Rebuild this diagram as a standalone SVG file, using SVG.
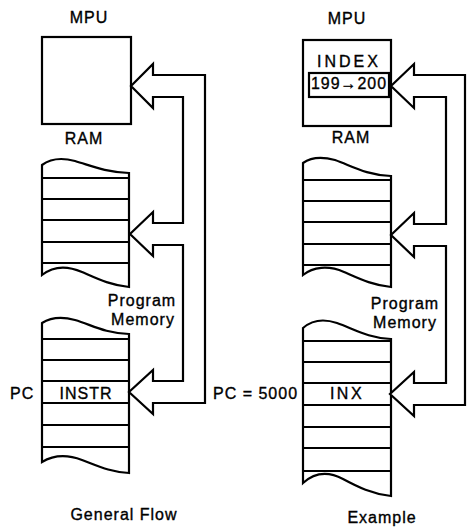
<svg xmlns="http://www.w3.org/2000/svg" width="467" height="527" viewBox="0 0 467 527">
<style>
.t{font-family:"Liberation Sans",Arial,sans-serif;font-size:16px;letter-spacing:1px;fill:#000;stroke:#000;stroke-width:0.35px}
.m{text-anchor:middle}
.s{fill:none;stroke:#000;stroke-width:2.2;stroke-linejoin:miter}
.f{fill:#fff;stroke:#000;stroke-width:2.2}
</style>
<rect width="467" height="527" fill="#fff"/>

<!-- LEFT: General Flow -->
<g id="left-mpu">
<text class="t m" x="89" y="23">MPU</text>
<rect class="s" x="42" y="37" width="89" height="87"/>
</g>
<g id="left-ram">
<text class="t m" x="84" y="144">RAM</text>
<path class="s" d="M42,275 L42,165 C50,159 60,157 75,161 C92,166 104,172 129,173 L129,287 C110,285 98,279 82,272 C66,265 52,267 42,275 Z"/>
<path class="s" d="M42,178 H129 M42,199 H129 M42,220 H129 M42,242 H129 M42,263 H129"/>
</g>
<g id="left-pm">
<text class="t m" x="142" y="306">Program</text>
<text class="t m" x="143" y="325">Memory</text>
<path class="s" d="M42,462 L42,323 C50,318 60,316 75,320 C92,325 104,333 129,334 L129,473 C110,472 98,466 82,460 C66,454 52,456 42,462 Z"/>
<path class="s" d="M42,339 H129 M42,360 H129 M42,381 H129 M42,403 H129 M42,425 H129 M42,447 H129"/>
<text class="t" x="10" y="399">PC</text>
<text class="t m" x="86" y="399">INSTR</text>
</g>

<!-- RIGHT: Example -->
<g id="right-mpu">
<text class="t m" x="347" y="24">MPU</text>
<rect class="s" x="303" y="40" width="88" height="86"/>
<text class="t m" x="349" y="67" style="letter-spacing:3px">INDEX</text>
<rect class="s" x="309" y="73" width="80" height="24"/>
<text class="t" x="311" y="89" textLength="76" lengthAdjust="spacingAndGlyphs">199→200</text>
</g>
<g id="right-ram">
<text class="t m" x="351" y="143">RAM</text>
<path class="s" d="M303,275 L303,163 C310,158 320,156 335,160 C352,166 366,175 391,176 L391,287 C372,285 360,279 344,272 C328,265 313,267 303,275 Z"/>
<path class="s" d="M303,180 H391 M303,201 H391 M303,222 H391 M303,244 H391 M303,265 H391"/>
</g>
<g id="right-pm">
<text class="t m" x="405" y="309">Program</text>
<text class="t m" x="405" y="328">Memory</text>
<path class="s" d="M303,483 L303,328 C311,321 322,318 337,323 C354,329 368,338 391,339 L391,496 C372,494 358,487 343,479 C328,471 314,473 303,483 Z"/>
<path class="s" d="M303,341 H391 M303,362 H391 M303,383 H391 M303,405 H391 M303,427 H391 M303,448 H391 M303,471 H391"/>
<text class="t" x="213" y="399">PC = 5000</text>
<text class="t m" x="347" y="399" style="letter-spacing:2.5px">INX</text>
</g>

<g id="connectors">
<path class="f" d="M153,75 L153,64 L131,86 L153,108 L153,97 L183,97 L183,223 L153,223 L153,212 L130,234 L153,256 L153,245 L183,245 L183,381 L153,381 L153,370 L129,392 L153,414 L153,403 L205,403 L205,75 Z"/>
<path class="f" d="M414,75 L414,64 L391,86 L414,108 L414,97 L446,97 L446,224 L414,224 L414,213 L391,235 L414,257 L414,246 L446,246 L446,383 L414,383 L414,372 L390,394 L414,416 L414,405 L465,405 L465,75 Z"/>
</g>

<text class="t m" x="124" y="520">General Flow</text>
<text class="t m" x="382" y="523">Example</text>
</svg>
